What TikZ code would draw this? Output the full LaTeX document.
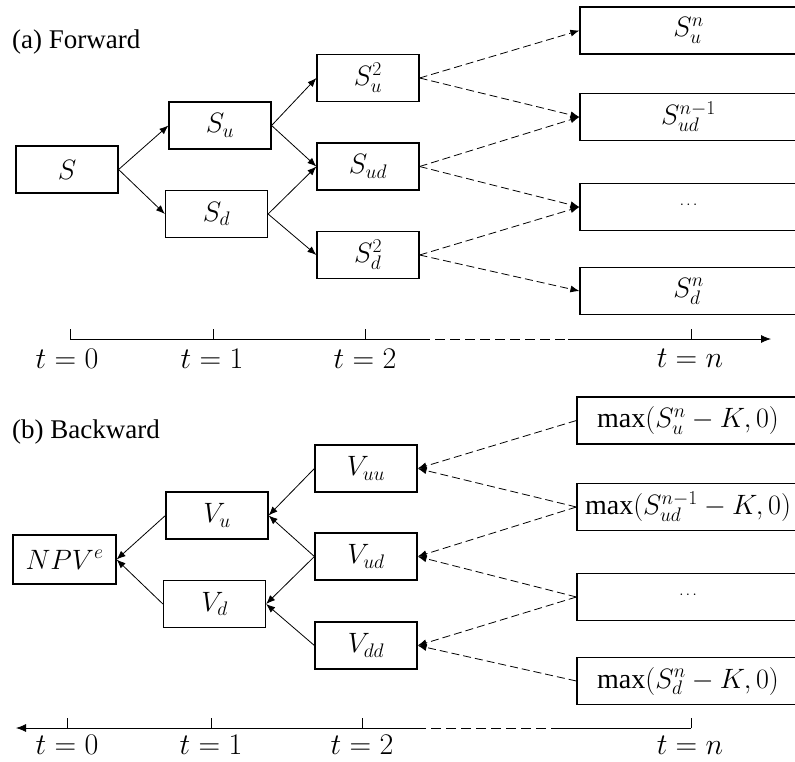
\RequirePackage{fix-cm}
\documentclass[tikz,border=0pt]{standalone}
\usepackage{fontspec}
\setmainfont{Liberation Serif}
\usetikzlibrary{arrows.meta}
\newcommand\lblfont{\fontsize{28}{33}\selectfont}
\newcommand\axfont{\fontsize{30}{35}\selectfont}
\newcommand\headfont{\fontsize{27}{32}\selectfont}
\begin{document}
\begin{tikzpicture}[x=1pt,y=-1pt,
  box/.style={draw, line width=1.2pt, minimum width=102pt, minimum height=47pt,
              inner sep=0pt, font=\lblfont},
  endbox/.style={box, minimum width=217pt},
  payoff/.style={box, minimum width=222pt},
  link/.style={line width=0.8pt, -{Latex[length=9pt,width=7pt]}},
  dlink/.style={link, dash pattern=on 8pt off 4pt},
  axis/.style={line width=0.8pt},
  tick/.style={line width=0.8pt},
  tlabel/.style={font=\axfont, inner sep=0pt},
  head/.style={font=\headfont, inner sep=0pt, anchor=west}]
\useasboundingbox (0,0) rectangle (795,761);

% ---------- (a) forward lattice ----------
\node[head] (ha) at (12,42) {(a) Forward};

\node[box] (S)   at (67,169.5)  {$S$};
\node[box] (Su)  at (220,125.5) {$S_u$};
\node[box] (Sd)  at (216.5,214) {$S_d$};
\node[box] (Suu) at (368,78)    {$S_u^2$};
\node[box] (Sud) at (368,166.5) {$S_{ud}$};
\node[box] (Sdd) at (368,255)   {$S_d^2$};

\node[endbox] (Fn1) at (688.5,30.5) {$S_u^n$};
\node[endbox] (Fn2) at (688.5,117)  {$S_{ud}^{n-1}$};
\node[endbox] (Fn3) at (688.5,207)  {\raisebox{3pt}{\fontsize{15}{16}\selectfont$\cdots$}};
\node[endbox] (Fn4) at (688.5,291)  {$S_d^n$};

\draw[link] (S.east)  -- (Su.west);
\draw[link] (S.east)  -- (Sd.west);
\draw[link] (Su.east) -- (Suu.west);
\draw[link] (Su.east) -- (Sud.west);
\draw[link] (Sd.east) -- (Sud.west);
\draw[link] (Sd.east) -- (Sdd.west);

\draw[dlink] (Suu.east) -- (Fn1.west);
\draw[dlink] (Suu.east) -- (Fn2.west);
\draw[dlink] (Sud.east) -- (Fn2.west);
\draw[dlink] (Sud.east) -- (Fn3.west);
\draw[dlink] (Sdd.east) -- (Fn3.west);
\draw[dlink] (Sdd.east) -- (Fn4.west);

% forward time axis
\coordinate (fa0) at (70,339);
\coordinate (fa1) at (213,339);
\coordinate (fa2) at (365,339);
\coordinate (fgapL) at (420,339);
\coordinate (fgapR) at (568,339);
\coordinate (fan) at (691,339);
\coordinate (fend) at (771,339);
\draw[axis] (fa0) -- (fgapL);
\draw[axis, dash pattern=on 10pt off 5pt] (fgapL) -- (fgapR);
\draw[axis, -{Latex[length=10pt,width=8pt]}] (fgapR) -- (fend);
\foreach \c in {fa0,fa1,fa2,fan} \draw[tick] (\c) -- ++(0,-10);
\node[tlabel] (ft0) at (67,359)  {$t=0$};
\node[tlabel] (ft1) at (212,359) {$t=1$};
\node[tlabel] (ft2) at (365,359) {$t=2$};
\node[tlabel] (ftn) at (690,358) {$t=n$};

% ---------- (b) backward induction ----------
\node[head] (hb) at (12,432) {(b) Backward};

\node[box, minimum width=103pt, minimum height=49pt] (NPV) at (64.5,559.5) {$NPV^e$};
\node[box] (Vu)  at (217,515.5)   {$V_u$};
\node[box] (Vd)  at (214.5,604)   {$V_d$};
\node[box] (Vuu) at (366,468.5)   {$V_{uu}$};
\node[box] (Vud) at (366,556.5)   {$V_{ud}$};
\node[box] (Vdd) at (366,645.5)   {$V_{dd}$};

\node[payoff] (P1) at (688,420.5) {$\max(S_u^n-K,0)$};
\node[payoff] (P2) at (688,507)   {$\max(S_{ud}^{n-1}-K,0)$};
\node[payoff] (P3) at (688,597)   {\raisebox{3pt}{\fontsize{15}{16}\selectfont$\cdots$}};
\node[payoff] (P4) at (688,681)   {$\max(S_d^n-K,0)$};

\draw[link] (Vu.west)  -- (NPV.east);
\draw[link] (Vd.west)  -- (NPV.east);
\draw[link] (Vuu.west) -- (Vu.east);
\draw[link] (Vud.west) -- (Vu.east);
\draw[link] (Vud.west) -- (Vd.east);
\draw[link] (Vdd.west) -- (Vd.east);

\draw[dlink] (P1.west) -- (Vuu.east);
\draw[dlink] (P2.west) -- (Vuu.east);
\draw[dlink] (P2.west) -- (Vud.east);
\draw[dlink] (P3.west) -- (Vud.east);
\draw[dlink] (P3.west) -- (Vdd.east);
\draw[dlink] (P4.west) -- (Vdd.east);

% backward time axis
\coordinate (ba0) at (67,728);
\coordinate (ba1) at (211,728);
\coordinate (ba2) at (362,728);
\coordinate (bgapL) at (416,728);
\coordinate (bgapR) at (561,728);
\coordinate (ban) at (691,728);
\coordinate (bend) at (16,728);
\draw[axis] (ban) -- (bgapR);
\draw[axis, dash pattern=on 10pt off 5pt] (bgapR) -- (bgapL);
\draw[axis, -{Latex[length=10pt,width=8pt]}] (bgapL) -- (bend);
\foreach \c in {ba0,ba1,ba2,ban} \draw[tick] (\c) -- ++(0,-10);
\node[tlabel] (bt0) at (67,745)  {$t=0$};
\node[tlabel] (bt1) at (211,745) {$t=1$};
\node[tlabel] (bt2) at (362,745) {$t=2$};
\node[tlabel] (btn) at (690,745) {$t=n$};
\end{tikzpicture}
\end{document}
